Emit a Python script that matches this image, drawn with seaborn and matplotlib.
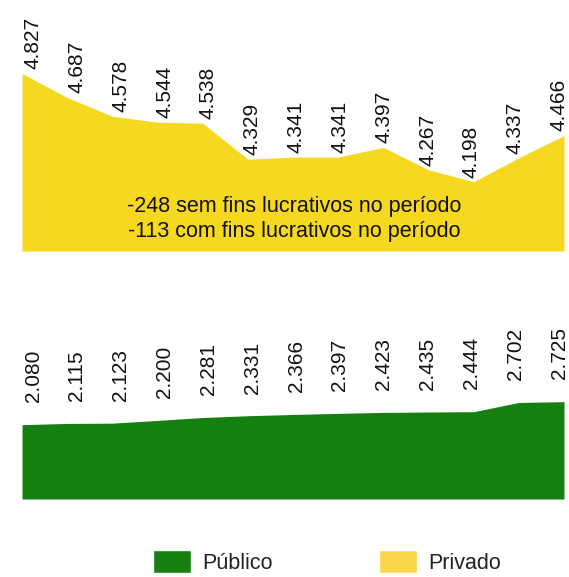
import seaborn as sns
import matplotlib.pyplot as plt
import pandas as pd
from matplotlib.patches import Patch

# Dados (matrículas, em milhares)
anos = list(range(13))
privado = [4827, 4687, 4578, 4544, 4538, 4329, 4341, 4341, 4397, 4267, 4198, 4337, 4466]
publico = [2080, 2115, 2123, 2200, 2281, 2331, 2366, 2397, 2423, 2435, 2444, 2702, 2725]
notas = ["-248 sem fins lucrativos no período", "-113 com fins lucrativos no período"]

cor_privado = "#F7D820"
cor_publico = "#138010"

sns.set_theme(style="white")
plt.rcParams['font.family'] = ['Liberation Sans', 'DejaVu Sans']

df = pd.DataFrame({'ano': anos, 'privado': privado, 'publico': publico})

W, H = 569, 577
fig = plt.figure(figsize=(W / 100, H / 100), dpi=100)

def px_axes(x0, y0, x1, y1):
    return fig.add_axes([x0 / W, 1 - y1 / H, (x1 - x0) / W, (y1 - y0) / H])

ax1 = px_axes(22, 0, 564, 251)
ax2 = px_axes(22, 260, 564, 499)

def fmt(v):
    return f"{v:,}".replace(",", ".")

# Privado
base1 = 3795
sns.lineplot(data=df, x='ano', y='privado', ax=ax1, color=cor_privado, linewidth=0)
ax1.fill_between(df['ano'], df['privado'], base1, color=cor_privado, linewidth=0)
ax1.set_ylim(base1, 5254)
for i, v in enumerate(privado):
    ax1.annotate(fmt(v), (0.244 + 0.9705 * i, v), xytext=(0, 3), textcoords='offset points',
                 rotation=90, ha='center', va='bottom', fontsize=15, color='#111111',
                 annotation_clip=False)
ax1.text(6.03, 4054, notas[0], ha='center', va='center', fontsize=15.5, color='#111111')
ax1.text(6.03, 3909, notas[1], ha='center', va='center', fontsize=15.5, color='#111111')

# Público
sns.lineplot(data=df, x='ano', y='publico', ax=ax2, color=cor_publico, linewidth=0)
ax2.fill_between(df['ano'], df['publico'], 0, color=cor_publico, linewidth=0)
ax2.set_ylim(0, 6690)
for i, v in enumerate(publico):
    ax2.annotate(fmt(v), (0.244 + 0.9705 * i, v), xytext=(0, 16), textcoords='offset points',
                 rotation=90, ha='center', va='bottom', fontsize=15, color='#111111',
                 annotation_clip=False)

for ax in (ax1, ax2):
    ax.set_xlim(0, 12)
    ax.axis('off')

handles = [Patch(facecolor="#168010", label="Público"),
           Patch(facecolor="#FAD64A", label="Privado")]
fig.legend(handles=handles, loc='center', bbox_to_anchor=(327 / W, 1 - 562 / H),
           ncol=2, frameon=False, fontsize=15.5, handlelength=1.77, handleheight=1.3,
           handletextpad=0.51, columnspacing=4.95, borderpad=0, labelcolor='#222222')

fig.savefig("out.png", dpi=100)
